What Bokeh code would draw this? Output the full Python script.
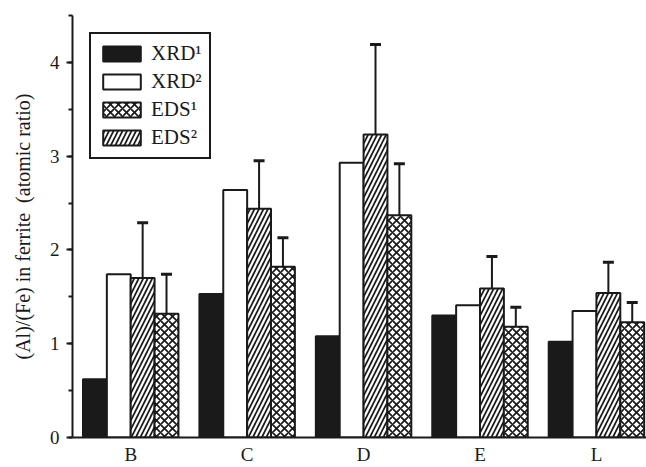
from bokeh.plotting import figure
from bokeh.models import (ColumnDataSource, Range1d, FixedTicker, SingleIntervalTicker,
                          Whisker, TeeHead, Legend, LegendItem)
from bokeh.embed import file_html
from bokeh.resources import INLINE

categories = ["B", "C", "D", "E", "L"]
xrd1 = [0.62, 1.53, 1.08, 1.30, 1.02]
xrd2 = [1.74, 2.64, 2.93, 1.41, 1.35]
eds2 = [1.70, 2.44, 3.23, 1.59, 1.54]
eds2_err = [0.59, 0.51, 0.96, 0.34, 0.33]
eds1 = [1.32, 1.82, 2.37, 1.18, 1.23]
eds1_err = [0.42, 0.31, 0.55, 0.21, 0.21]

FONT = "Liberation Serif"
INK = "#1a1a1a"
BW = 0.205
offsets = [-1.5 * BW, -0.5 * BW, 0.5 * BW, 1.5 * BW]
xs = list(range(len(categories)))

p = figure(width=646, height=467, output_backend="svg", toolbar_location=None,
           x_range=Range1d(-0.5, 4.43), y_range=Range1d(0, 4.5),
           min_border_left=72, min_border_right=0, min_border_top=15, min_border_bottom=0)
p.outline_line_color = None
p.xgrid.visible = False
p.ygrid.visible = False
p.background_fill_color = "white"


def src(vals, off, err=None):
    d = dict(x=[i + off for i in xs], top=vals)
    if err is not None:
        d["upper"] = [v + e for v, e in zip(vals, err)]
        d["lower"] = [v - e for v, e in zip(vals, err)]
    return ColumnDataSource(d)


s1 = src(xrd1, offsets[0])
s2 = src(xrd2, offsets[1])
s3 = src(eds2, offsets[2], eds2_err)
s4 = src(eds1, offsets[3], eds1_err)

common = dict(width=BW, bottom=0, line_color=INK, line_width=2)
r1 = p.vbar(x="x", top="top", source=s1, fill_color=INK, **common)
r2 = p.vbar(x="x", top="top", source=s2, fill_color="white", **common)
r3 = p.vbar(x="x", top="top", source=s3, fill_color="white", hatch_pattern="/",
            hatch_color=INK, hatch_scale=9, hatch_weight=1.7, **common)
r4 = p.vbar(x="x", top="top", source=s4, fill_color="white", hatch_pattern="x",
            hatch_color=INK, hatch_scale=8, hatch_weight=1.7, **common)

for s in (s3, s4):
    w = Whisker(base="x", upper="upper", lower="lower", source=s,
                line_color=INK, line_width=2,
                upper_head=TeeHead(size=11, line_width=3, line_color=INK),
                lower_head=None)
    p.add_layout(w)

# axes
xa = p.xaxis[0]
xa.ticker = FixedTicker(ticks=xs)
xa.major_label_overrides = {i: c for i, c in zip(xs, categories)}
xa.major_tick_out = 0
xa.major_tick_in = 0
xa.minor_tick_out = 0
xa.minor_tick_in = 0
xa.axis_line_width = 2
xa.axis_line_color = INK
xa.major_label_text_font = FONT
xa.major_label_text_font_size = "19px"
xa.major_label_text_color = INK
xa.major_label_standoff = 6

ya = p.yaxis[0]
ya.ticker = SingleIntervalTicker(interval=1, num_minor_ticks=2)
ya.major_tick_out = 6
ya.major_tick_in = 0
ya.minor_tick_out = 4
ya.minor_tick_in = 0
ya.major_tick_line_width = 2
ya.minor_tick_line_width = 2
ya.axis_line_width = 2
ya.axis_line_color = INK
ya.major_tick_line_color = INK
ya.minor_tick_line_color = INK
ya.major_label_text_font = FONT
ya.major_label_text_font_size = "19px"
ya.major_label_text_color = INK
ya.major_label_standoff = 7
ya.axis_label = "(Al)/(Fe) in ferrite \u00a0(atomic ratio)"
ya.axis_label_text_font = FONT
ya.axis_label_text_font_style = "normal"
ya.axis_label_text_font_size = "20px"
ya.axis_label_text_color = INK
ya.axis_label_standoff = 13

legend = Legend(items=[
    LegendItem(label="XRD\u00b9", renderers=[r1]),
    LegendItem(label="XRD\u00b2", renderers=[r2]),
    LegendItem(label="EDS\u00b9", renderers=[r4]),
    LegendItem(label="EDS\u00b2", renderers=[r3]),
], location="top_left")
legend.margin = 17
legend.padding = 7
legend.spacing = 3
legend.glyph_width = 47
legend.glyph_height = 19
legend.label_height = 24
legend.label_standoff = 6
legend.label_text_font = FONT
legend.label_text_font_size = "21px"
legend.label_text_color = INK
legend.border_line_color = INK
legend.border_line_width = 2
legend.border_line_alpha = 1.0
legend.background_fill_alpha = 1.0
p.add_layout(legend, "center")

open("out.html", "w").write(file_html(p, INLINE))
